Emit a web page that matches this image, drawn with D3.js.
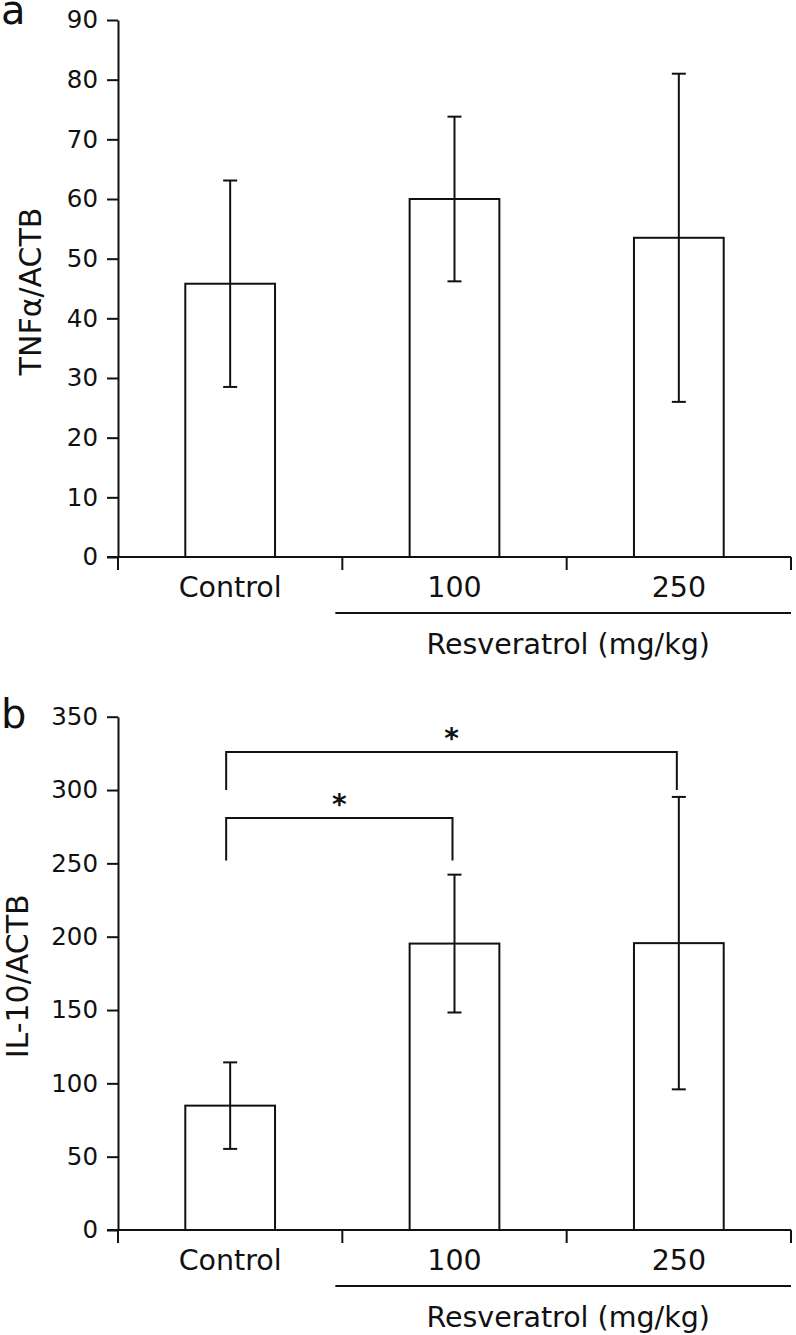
<!DOCTYPE html>
<html>
<head>
<meta charset="utf-8">
<script src="https://cdn.jsdelivr.net/npm/d3@7"></script>
<style>
  html, body { margin: 0; padding: 0; background: #fff; }
  svg { display: block; font-family: "DejaVu Sans", Verdana, sans-serif; }
</style>
</head>
<body>
<script>
// ---- data ----
const categories = ["Control", "100", "250"];
const groupLabel = "Resveratrol (mg/kg)";
const groupCategories = ["100", "250"];

const tnfMeans = [45.8, 60.0, 53.5];
const tnfErrors = [17.3, 13.8, 27.5];
const tnfTicks = [0, 10, 20, 30, 40, 50, 60, 70, 80, 90];

const il10Means = [84.8, 195.3, 195.6];
const il10Errors = [29.5, 47.0, 99.7];
const il10Ticks = [0, 50, 100, 150, 200, 250, 300, 350];

// significance brackets (values in data units)
const il10Brackets = [
  { from: "Control", to: "100", top: 281, leftEnd: 252, rightEnd: 252, label: "*" },
  { from: "Control", to: "250", top: 326, leftEnd: 300, rightEnd: 300, label: "*" }
];

// ---- layout ----
const W = 796, H = 1335;
const svg = d3.select("body").append("svg").attr("width", W).attr("height", H);

const xLeft = 118, xRight = 791;
const x = d3.scaleBand().domain(categories).range([xLeft, xRight]).paddingInner(0).paddingOuter(0);
const barW = x.bandwidth() * 0.4;

function panel(opts) {
  const { yMax, top, bottom, means, errors, ticks, title, letter, titleX, letterY, brackets } = opts;
  const y = d3.scaleLinear().domain([0, yMax]).range([bottom, top]);
  const g = svg.append("g");

  // y axis
  const yAxis = d3.axisLeft(y).tickValues(ticks).tickSize(11).tickPadding(9).tickSizeOuter(0);
  const ya = g.append("g").attr("transform", `translate(${xLeft},0)`).call(yAxis);
  ya.select(".domain").attr("stroke", "#111").attr("stroke-width", 2);
  ya.selectAll(".tick line").attr("stroke", "#111").attr("stroke-width", 2);
  ya.selectAll(".tick text").attr("font-size", 24.5).attr("fill", "#111")
    .attr("font-family", "'DejaVu Sans', Verdana, sans-serif");

  // bars
  const data = categories.map((c, i) => ({ c, m: means[i], e: errors[i] }));
  g.selectAll("rect.bar").data(data).enter().append("rect")
    .attr("class", "bar")
    .attr("x", d => x(d.c) + (x.bandwidth() - barW) / 2)
    .attr("width", barW)
    .attr("y", d => y(d.m))
    .attr("height", d => y(0) - y(d.m))
    .attr("fill", "#fff").attr("stroke", "#111").attr("stroke-width", 2);

  // error bars
  const cx = d => x(d.c) + x.bandwidth() / 2;
  const capW = 7;
  const eb = g.selectAll("g.err").data(data).enter().append("g").attr("class", "err")
    .attr("stroke", "#111").attr("stroke-width", 2);
  eb.append("line").attr("x1", cx).attr("x2", cx).attr("y1", d => y(d.m + d.e)).attr("y2", d => y(d.m - d.e));
  eb.append("line").attr("x1", d => cx(d) - capW).attr("x2", d => cx(d) + capW)
    .attr("y1", d => y(d.m + d.e)).attr("y2", d => y(d.m + d.e));
  eb.append("line").attr("x1", d => cx(d) - capW).attr("x2", d => cx(d) + capW)
    .attr("y1", d => y(d.m - d.e)).attr("y2", d => y(d.m - d.e));

  // x axis baseline
  g.append("line").attr("x1", xLeft - 11).attr("x2", xRight).attr("y1", y(0)).attr("y2", y(0))
    .attr("stroke", "#111").attr("stroke-width", 2);
  // category separators (downward ticks at band edges)
  const edges = categories.map(c => x(c)).concat([x(categories[categories.length - 1]) + x.bandwidth()]);
  g.selectAll("line.sep").data(edges).enter().append("line").attr("class", "sep")
    .attr("x1", d => d).attr("x2", d => d).attr("y1", y(0)).attr("y2", y(0) + 13)
    .attr("stroke", "#111").attr("stroke-width", 2);

  // category labels
  g.selectAll("text.cat").data(categories).enter().append("text").attr("class", "cat")
    .attr("x", c => x(c) + x.bandwidth() / 2).attr("y", y(0) + 40)
    .attr("text-anchor", "middle").attr("font-size", 28.5).attr("fill", "#111").text(c => c);

  // group line + label
  const gx1 = x(groupCategories[0]) - 7;
  const gx2 = x(groupCategories[groupCategories.length - 1]) + x.bandwidth();
  g.append("line").attr("x1", gx1).attr("x2", gx2).attr("y1", y(0) + 56).attr("y2", y(0) + 56)
    .attr("stroke", "#111").attr("stroke-width", 2);
  g.append("text").attr("x", (gx1 + gx2) / 2 + 5).attr("y", y(0) + 97)
    .attr("text-anchor", "middle").attr("font-size", 28.5).attr("fill", "#111").text(groupLabel);

  // y title
  g.append("text")
    .attr("transform", `translate(${titleX},${(top + bottom) / 2 + 3}) rotate(-90)`)
    .attr("text-anchor", "middle").attr("font-size", 30).attr("fill", "#111")
    .text(title);

  // panel letter
  g.append("text").attr("x", 1).attr("y", letterY).attr("font-size", 40).attr("fill", "#111").text(letter);

  // brackets
  if (brackets) {
    const bg = g.selectAll("g.br").data(brackets).enter().append("g").attr("class", "br");
    const lx = d => x(d.from) + x.bandwidth() / 2 - 4;
    const rx = d => x(d.to) + x.bandwidth() / 2 - 2;
    bg.append("path")
      .attr("d", d => `M${lx(d)},${y(d.leftEnd)}V${y(d.top)}H${rx(d)}V${y(d.rightEnd)}`)
      .attr("fill", "none").attr("stroke", "#111").attr("stroke-width", 2);
    bg.append("text").attr("x", d => (lx(d) + rx(d)) / 2).attr("y", d => y(d.top) - 4)
      .attr("text-anchor", "middle").attr("font-size", 28).attr("font-weight", "bold")
      .attr("fill", "#111").text(d => d.label);
  }
}

panel({ yMax: 90, top: 20, bottom: 557, means: tnfMeans, errors: tnfErrors, ticks: tnfTicks,
        title: "TNFα/ACTB", letter: "a", titleX: 40.5, letterY: 24, brackets: null });
panel({ yMax: 350, top: 716.7, bottom: 1230, means: il10Means, errors: il10Errors, ticks: il10Ticks,
        title: "IL-10/ACTB", letter: "b", titleX: 28, letterY: 728, brackets: il10Brackets });
</script>
</body>
</html>
